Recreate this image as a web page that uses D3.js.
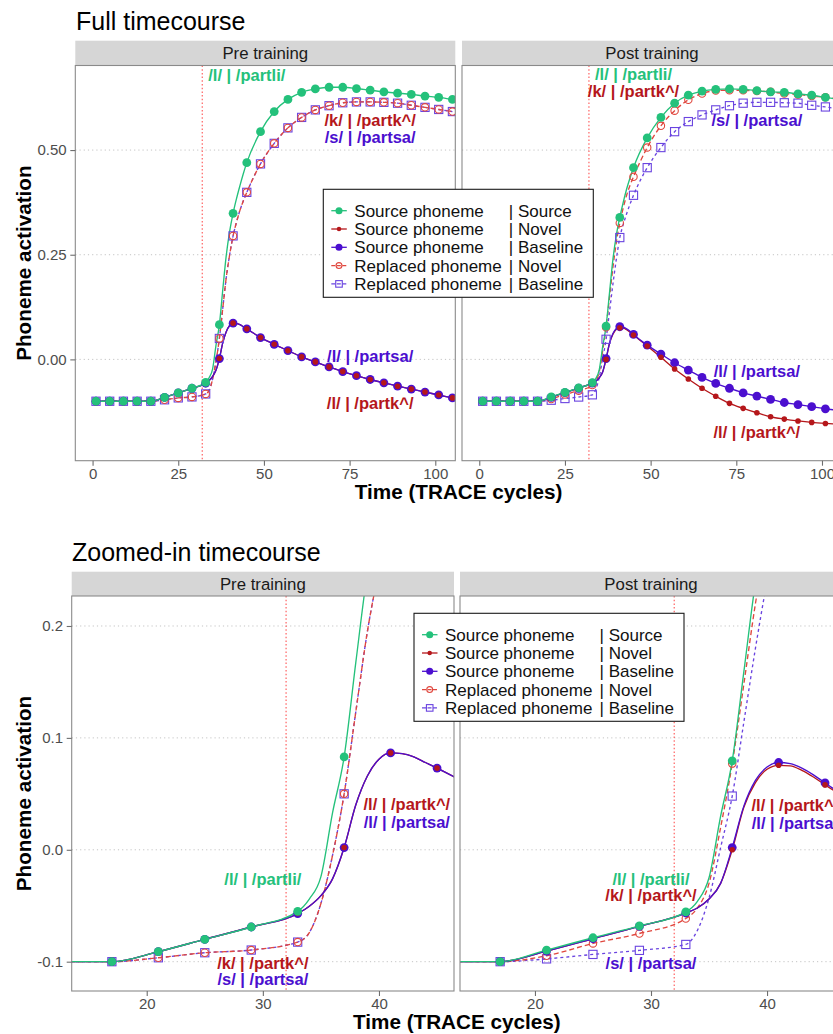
<!DOCTYPE html>
<html>
<head>
<meta charset="utf-8">
<script src="https://cdn.jsdelivr.net/npm/d3@7"></script>
<style>
  body { margin: 0; background: #fff; }
  text { font-family: "Liberation Sans", Arial, Helvetica, sans-serif; }
</style>
</head>
<body>
<svg id="chart" width="833" height="1034"></svg>
<script>
// TRACE cycles at which values were read (markers every 4 cycles, extra points on the rise)
const cycles = [1, 5, 9, 13, 17, 21, 25, 29, 33, 34, 35, 36, 37, 38, 39, 40, 41, 42, 43, 44, 45,
  49, 53, 57, 61, 65, 69, 73, 77, 81, 85, 89, 93, 97, 101, 105];

// pre training
const preSourceSource = [-0.100, -0.100, -0.100, -0.100, -0.100, -0.091, -0.080, -0.069, -0.055,
  -0.044, -0.024, 0.033, 0.083, 0.167, 0.248, 0.306, 0.349, 0.384, 0.415, 0.444, 0.470,
  0.544, 0.592, 0.621, 0.638, 0.646, 0.650, 0.650, 0.647, 0.643, 0.639, 0.636, 0.633, 0.629, 0.626, 0.621];
const preSourceNovel = [-0.100, -0.100, -0.100, -0.100, -0.100, -0.091, -0.080, -0.069, -0.057,
  -0.0505, -0.041, -0.026, 0.002, 0.040, 0.066, 0.081, 0.0866, 0.086, 0.083, 0.078, 0.073,
  0.052, 0.036, 0.021, 0.006, -0.006, -0.018, -0.029, -0.039, -0.048, -0.056, -0.064, -0.071, -0.078, -0.085, -0.092];
const preSourceBaseline = [-0.100, -0.100, -0.100, -0.100, -0.100, -0.091, -0.080, -0.069, -0.057,
  -0.0505, -0.041, -0.026, 0.002, 0.040, 0.066, 0.081, 0.0866, 0.086, 0.083, 0.078, 0.073,
  0.052, 0.036, 0.021, 0.006, -0.006, -0.018, -0.029, -0.039, -0.048, -0.056, -0.064, -0.071, -0.078, -0.085, -0.092];
const preReplacedNovel = [-0.100, -0.100, -0.100, -0.100, -0.100, -0.0965, -0.092, -0.0896, -0.0825,
  -0.074, -0.048, -0.005, 0.050, 0.123, 0.195, 0.250, 0.295, 0.328, 0.356, 0.379, 0.399,
  0.467, 0.516, 0.553, 0.578, 0.596, 0.606, 0.613, 0.615, 0.615, 0.614, 0.612, 0.607, 0.602, 0.597, 0.592];
const preReplacedBaseline = [-0.100, -0.100, -0.100, -0.100, -0.100, -0.0965, -0.092, -0.0896, -0.0825,
  -0.074, -0.048, -0.005, 0.050, 0.123, 0.195, 0.250, 0.295, 0.328, 0.356, 0.379, 0.399,
  0.467, 0.516, 0.553, 0.578, 0.596, 0.606, 0.613, 0.615, 0.615, 0.614, 0.612, 0.607, 0.602, 0.597, 0.592];

// post training
const postSourceSource = [-0.100, -0.100, -0.100, -0.100, -0.100, -0.0896, -0.0786, -0.068, -0.0555,
  -0.046, -0.025, 0.030, 0.0795, 0.159, 0.239, 0.297, 0.339, 0.375, 0.407, 0.434, 0.458,
  0.529, 0.578, 0.612, 0.631, 0.641, 0.645, 0.646, 0.645, 0.642, 0.639, 0.638, 0.634, 0.631, 0.626, 0.621];
const postSourceNovel = [-0.100, -0.100, -0.100, -0.100, -0.100, -0.0905, -0.0795, -0.0685, -0.0565,
  -0.052, -0.044, -0.030, 0.000, 0.038, 0.060, 0.072, 0.0755, 0.075, 0.071, 0.065, 0.058,
  0.032, 0.005, -0.023, -0.047, -0.069, -0.088, -0.105, -0.117, -0.1275, -0.137, -0.1426, -0.147, -0.1505, -0.153, -0.155];
const postSourceBaseline = [-0.100, -0.100, -0.100, -0.100, -0.100, -0.0905, -0.0795, -0.0685, -0.0565,
  -0.052, -0.044, -0.030, 0.002, 0.039, 0.062, 0.074, 0.078, 0.077, 0.073, 0.067, 0.0597,
  0.034, 0.0127, -0.008, -0.0256, -0.043, -0.0573, -0.069, -0.080, -0.0877, -0.0956, -0.103, -0.108, -0.113, -0.118, -0.122];
const postReplacedNovel = [-0.100, -0.100, -0.100, -0.100, -0.100, -0.0947, -0.0837, -0.0748, -0.0614,
  -0.052, -0.030, 0.020, 0.077, 0.148, 0.220, 0.280, 0.326, 0.362, 0.392, 0.416, 0.436,
  0.506, 0.558, 0.594, 0.620, 0.635, 0.642, 0.643, 0.643, 0.641, 0.639, 0.635, 0.633, 0.629, 0.626, 0.621];
const postReplacedBaseline = [-0.100, -0.100, -0.100, -0.100, -0.100, -0.0975, -0.0935, -0.0899, -0.0846,
  -0.072, -0.043, 0.002, 0.048, 0.114, 0.180, 0.240, 0.291, 0.322, 0.348, 0.371, 0.392,
  0.458, 0.506, 0.544, 0.568, 0.584, 0.596, 0.606, 0.612, 0.614, 0.614, 0.613, 0.612, 0.607, 0.603, 0.598];

const legendPhoneme = ["Source phoneme", "Source phoneme", "Source phoneme", "Replaced phoneme", "Replaced phoneme"];
const legendCondition = ["| Source", "| Novel", "| Baseline", "| Novel", "| Baseline"];
const phases = ["Pre training", "Post training"];
const onsetCycle = 32;

const fullTicksX = [0, 25, 50, 75, 100];
const fullTicksY = [0, 0.25, 0.5];
const zoomTicksX = [20, 30, 40];
const zoomTicksY = [-0.1, 0, 0.1, 0.2];

// annotations: text, colour index, cycle, activation
const fullPreLabels = [
  ["/l/ | /partli/", 0, 45, 0.675],
  ["/k/ | /partk^/", 1, 81, 0.568],
  ["/s/ | /partsa/", 2, 81, 0.528],
  ["/l/ | /partsa/", 2, 81, 0.005],
  ["/l/ | /partk^/", 1, 81, -0.107]
];
const fullPostLabels = [
  ["/l/ | /partli/", 0, 45, 0.679],
  ["/k/ | /partk^/", 1, 45, 0.638],
  ["/s/ | /partsa/", 2, 81, 0.568],
  ["/l/ | /partsa/", 2, 81, -0.032],
  ["/l/ | /partk^/", 1, 81, -0.177]
];
const zoomPreLabels = [
  ["/l/ | /partli/", 0, 30, -0.027],
  ["/k/ | /partk^/", 1, 30, -0.102],
  ["/s/ | /partsa/", 2, 30, -0.117],
  ["/l/ | /partk^/", 1, 42.4, 0.0396],
  ["/l/ | /partsa/", 2, 42.4, 0.0238]
];
const zoomPostLabels = [
  ["/l/ | /partli/", 0, 30, -0.027],
  ["/k/ | /partk^/", 1, 30, -0.042],
  ["/s/ | /partsa/", 2, 30, -0.102],
  ["/l/ | /partk^/", 1, 42.4, 0.0387],
  ["/l/ | /partsa/", 2, 42.4, 0.023]
];

const seriesByPhase = [
  [preSourceSource, preSourceNovel, preSourceBaseline, preReplacedNovel, preReplacedBaseline],
  [postSourceSource, postSourceNovel, postSourceBaseline, postReplacedNovel, postReplacedBaseline]
];

// look of each series
const styles = [
  { color: "#24C17B", dash: null, shape: "dot", r: 4.4 },
  { color: "#B5171B", dash: null, shape: "dot", r: 2.8 },
  { color: "#4B0FCF", dash: null, shape: "dot", r: 4.4 },
  { color: "#E0473E", dash: "5,3", shape: "ring", r: 3.7 },
  { color: "#6A44E0", dash: "3,3", shape: "square", r: 4.1 }
];
const labelColors = ["#24C17B", "#B5171B", "#4B0FCF"];
const lineOrder = [4, 3, 1, 2, 0];
const pointOrder = [4, 3, 2, 1, 0];

const rows = [
  {
    title: "Full timecourse", titleX: 76, titleY: 30,
    xDom: [-5.04, 105.84], yDom: [-0.242, 0.702],
    xTicks: fullTicksX, yTicks: fullTicksY, yFmt: d => d.toFixed(2),
    stripTop: 40.7, top: 65.5, bottom: 460.7,
    panels: [[75.3, 455.3], [462, 842]],
    labels: [fullPreLabels, fullPostLabels],
    xTitleY: 499, legend: [323.3, 189.3]
  },
  {
    title: "Zoomed-in timecourse", titleX: 72, titleY: 561,
    xDom: [13.54, 46.46], yDom: [-0.1262, 0.2268],
    xTicks: zoomTicksX, yTicks: zoomTicksY, yFmt: d => d.toFixed(1),
    stripTop: 571.7, top: 596, bottom: 991,
    panels: [[71.7, 454], [460, 842]],
    labels: [zoomPreLabels, zoomPostLabels],
    xTitleY: 1029, legend: [414, 613.3]
  }
];

const svg = d3.select("#chart");
const defs = svg.append("defs");

function drawMarkers(g, pts, st, scale) {
  if (st.shape === "square") {
    const h = st.r * scale;
    g.selectAll(null).data(pts).join("rect")
      .attr("x", d => d[0] - h).attr("y", d => d[1] - h)
      .attr("width", 2 * h).attr("height", 2 * h)
      .attr("fill", "none").attr("stroke", st.color).attr("stroke-width", 1.1);
  } else {
    g.selectAll(null).data(pts).join("circle")
      .attr("cx", d => d[0]).attr("cy", d => d[1])
      .attr("r", st.r * scale)
      .attr("fill", st.shape === "dot" ? st.color : "none")
      .attr("stroke", st.shape === "ring" ? st.color : "none")
      .attr("stroke-width", 1.1);
  }
}

function drawPanel(row, col, rowIdx) {
  const [x0, x1] = row.panels[col];
  const x = d3.scaleLinear().domain(row.xDom).range([x0, x1]);
  const y = d3.scaleLinear().domain(row.yDom).range([row.bottom, row.top]);
  const g = svg.append("g");

  // strip
  g.append("rect")
    .attr("x", x0).attr("y", row.stripTop)
    .attr("width", x1 - x0).attr("height", row.top - row.stripTop)
    .attr("fill", "#D6D6D6");
  g.append("text")
    .attr("x", (x0 + x1) / 2).attr("y", (row.stripTop + row.top) / 2)
    .attr("dy", "0.36em").attr("text-anchor", "middle")
    .attr("font-size", 16.8).attr("fill", "#1A1A1A")
    .text(phases[col]);

  // grid
  g.selectAll(null).data(row.yTicks).join("line")
    .attr("x1", x0).attr("x2", x1)
    .attr("y1", d => y(d)).attr("y2", d => y(d))
    .attr("stroke", "#C4C4C4").attr("stroke-width", 1)
    .attr("stroke-dasharray", "1.2,3");

  const clipId = "clip" + rowIdx + col;
  defs.append("clipPath").attr("id", clipId).append("rect")
    .attr("x", x0).attr("y", row.top).attr("width", x1 - x0).attr("height", row.bottom - row.top);
  const plot = g.append("g").attr("clip-path", "url(#" + clipId + ")");

  plot.append("line")
    .attr("x1", x(onsetCycle)).attr("x2", x(onsetCycle))
    .attr("y1", row.top).attr("y2", row.bottom)
    .attr("stroke", "#FF5252").attr("stroke-width", 1.1)
    .attr("stroke-dasharray", "1.5,2.2");

  const series = seriesByPhase[col];
  const line = d3.line()
    .x((d, i) => x(cycles[i]))
    .y(d => y(d))
    .curve(d3.curveMonotoneX);

  lineOrder.forEach(s => {
    plot.append("path").datum(series[s])
      .attr("d", line)
      .attr("fill", "none")
      .attr("stroke", styles[s].color)
      .attr("stroke-width", 1.35)
      .attr("stroke-dasharray", styles[s].dash);
  });
  pointOrder.forEach(s => {
    const pts = [];
    cycles.forEach((c, i) => {
      if ((c - 1) % 4 === 0) pts.push([x(c), y(series[s][i])]);
    });
    drawMarkers(plot.append("g"), pts, styles[s], 1);
  });

  plot.selectAll(null).data(row.labels[col]).join("text")
    .attr("x", d => x(d[2])).attr("y", d => y(d[3]))
    .attr("dy", "0.28em").attr("text-anchor", "middle")
    .attr("font-size", 16.5).attr("font-weight", "bold")
    .attr("fill", d => labelColors[d[1]])
    .text(d => d[0]);

  // border
  g.append("rect")
    .attr("x", x0).attr("y", row.top)
    .attr("width", x1 - x0).attr("height", row.bottom - row.top)
    .attr("fill", "none").attr("stroke", "#8A8A8A").attr("stroke-width", 1.1);

  // axes
  const xAxis = g.append("g")
    .attr("transform", "translate(0," + row.bottom + ")")
    .call(d3.axisBottom(x).tickValues(row.xTicks).tickSize(5).tickPadding(2.4));
  styleAxis(xAxis);
  if (col === 0) {
    const yAxis = g.append("g")
      .attr("transform", "translate(" + x0 + ",0)")
      .call(d3.axisLeft(y).tickValues(row.yTicks).tickFormat(row.yFmt).tickSize(5).tickPadding(3.6));
    styleAxis(yAxis);
  }
}

function styleAxis(ax) {
  ax.select(".domain").remove();
  ax.selectAll(".tick line").attr("stroke", "#6E6E6E").attr("stroke-width", 1.1);
  ax.selectAll(".tick text")
    .attr("fill", "#4D4D4D").attr("font-size", 15)
    .attr("font-family", "'Liberation Sans', Arial, Helvetica, sans-serif");
}

function drawLegend(lx, ly) {
  const g = svg.append("g").attr("transform", "translate(" + lx + "," + ly + ")");
  g.append("rect").attr("width", 270).attr("height", 108)
    .attr("fill", "#fff").attr("stroke", "#1A1A1A").attr("stroke-width", 1.1);
  legendPhoneme.forEach((name, i) => {
    const cy = 21.4 + i * 18.3;
    const st = styles[i];
    g.append("line")
      .attr("x1", 8).attr("x2", 23.5).attr("y1", cy).attr("y2", cy)
      .attr("stroke", st.color).attr("stroke-width", 1.3)
      .attr("stroke-dasharray", st.dash ? "4,1.5" : null);
    drawMarkers(g.append("g"), [[15.7, cy]], st, 0.8);
    g.append("text").attr("x", 31).attr("y", cy).attr("dy", "0.36em")
      .attr("font-size", 17).attr("fill", "#111").text(name);
    g.append("text").attr("x", 185.5).attr("y", cy).attr("dy", "0.36em")
      .attr("font-size", 17).attr("fill", "#111").text(legendCondition[i]);
  });
}

rows.forEach((row, r) => {
  svg.append("text")
    .attr("x", row.titleX).attr("y", row.titleY)
    .attr("font-size", 25).attr("fill", "#000")
    .text(row.title);
  drawPanel(row, 0, r);
  drawPanel(row, 1, r);

  const midY = (row.top + row.bottom) / 2;
  svg.append("text")
    .attr("transform", "translate(31," + midY + ") rotate(-90)")
    .attr("text-anchor", "middle")
    .attr("font-size", 20.7).attr("font-weight", "bold")
    .text("Phoneme activation");
  svg.append("text")
    .attr("x", (row.panels[0][0] + row.panels[1][1]) / 2).attr("y", row.xTitleY)
    .attr("text-anchor", "middle")
    .attr("font-size", 20.7).attr("font-weight", "bold")
    .text("Time (TRACE cycles)");

  drawLegend(row.legend[0], row.legend[1]);
});
</script>
</body>
</html>
